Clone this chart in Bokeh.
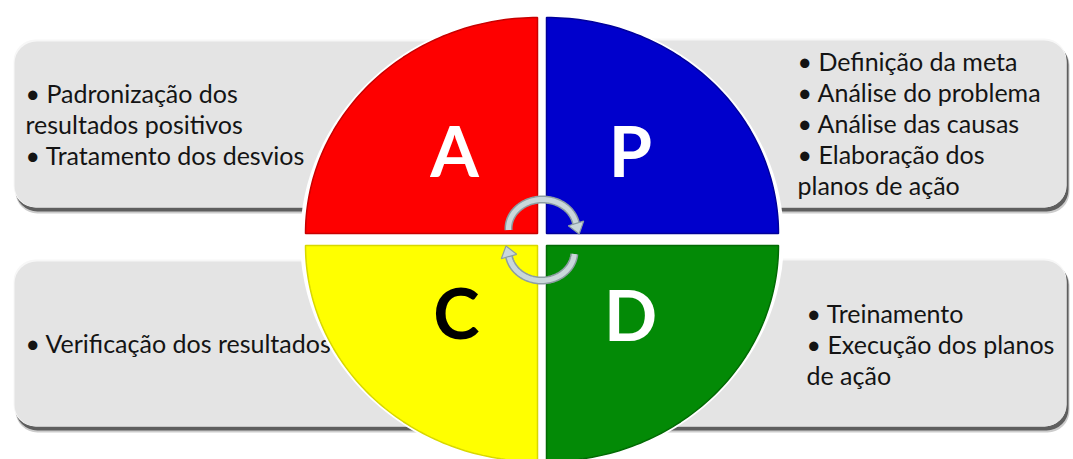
import numpy as np
from bokeh.plotting import figure
from bokeh.models import Range1d
from bokeh.core.properties import value
from bokeh.embed import file_html
from bokeh.resources import INLINE

# ---- content ----
letters = ["A", "P", "C", "D"]
quad_colors = ["#fe0000", "#0000cc", "#ffff00", "#038a06"]
quad_edges = ["#c80000", "#00009a", "#d8d800", "#026a04"]
letter_colors = ["white", "white", "black", "white"]

text_A = ["• Padronização dos", "resultados positivos", "• Tratamento dos desvios"]
text_P = ["• Definição da meta", "• Análise do problema", "• Análise das causas",
          "• Elaboração dos", "planos de ação"]
text_C = ["• Verificação dos resultados"]
text_D = ["• Treinamento", "• Execução dos planos", "de ação"]

# ---- layout (pixel-like coordinates, y downward) ----
W, H = 1073, 459
p = figure(width=W, height=H, x_range=Range1d(0, W), y_range=Range1d(H, 0),
           output_backend="svg", toolbar_location=None, min_border=0)
p.axis.visible = False
p.grid.visible = False
p.outline_line_color = None
p.background_fill_color = "white"

# boxes: left, right, top, bottom
box_l = [14, 480, 14, 480]
box_r = [600, 1066, 600, 1066]
box_t = [41, 40, 261, 260]
box_b = [207, 207, 426, 426]

# soft shadow
p.quad(left=[v + 1 for v in box_l], right=[v + 3 for v in box_r],
       top=[v + 3 for v in box_t], bottom=[v + 6 for v in box_b],
       fill_color="#9a9a9a", fill_alpha=0.5, line_color=None, border_radius=22)
p.quad(left=[v + 1 for v in box_l], right=[v + 2 for v in box_r],
       top=[v + 2 for v in box_t], bottom=[v + 4 for v in box_b],
       fill_color="#5e5e5e", line_color=None, border_radius=22)
# highlight rim
p.quad(left=[v - 1 for v in box_l], right=box_r,
       top=[v - 2 for v in box_t], bottom=box_b,
       fill_color="#f7f7f7", line_color=None, border_radius=22)
p.quad(left=box_l, right=box_r, top=box_t, bottom=box_b,
       fill_color="#e4e4e4", line_color=None, border_radius=22)

# texts
font = value("Lato")
fs = "25px"
lh = 31
def put_lines(lines, x0, y0):
    xs = [x0] * len(lines)
    ys = [y0 + i * lh for i in range(len(lines))]
    p.text(x=xs, y=ys, text=lines, text_font=font, text_font_size=fs,
           text_color="#141414", text_align="left", text_baseline="middle")

put_lines(text_A, 25, 92)
put_lines(text_P, 797, 60)
put_lines(text_C, 25, 342)
put_lines(text_D, 806, 312)

# white backing ellipse for the gaps
p.ellipse(x=[541.5], y=[239], width=[484], height=[452], fill_color="white", line_color=None)

# quadrants
rx, ry = 232, 216
centers = [(537, 233), (546, 233), (537, 245), (546, 245)]
ranges = [(90, 180), (0, 90), (180, 270), (270, 360)]
xs_q, ys_q = [], []
for (cx, cy), (a0, a1) in zip(centers, ranges):
    t = np.radians(np.linspace(a0, a1, 80))
    xs_q.append(list(np.r_[cx, cx + rx * np.cos(t)]))
    ys_q.append(list(np.r_[cy, cy - ry * np.sin(t)]))
p.patches(xs_q, ys_q, fill_color=quad_colors, line_color=quad_edges, line_width=1.5)

# letters
lx = [454, 630, 456, 630]
ly = [149, 149, 311, 313]
p.text(x=lx, y=ly, text=letters, text_font=value("Lato"), text_font_style="bold",
       text_font_size="70px", text_color=letter_colors,
       text_align="center", text_baseline="middle")

# cycle arrows
def arc_arrow(cx, cy, arx, ary, a0, a1):
    t = np.radians(np.linspace(a0, a1, 60))
    x = cx + arx * np.cos(t)
    y = cy - ary * np.sin(t)
    p.line(x, y, line_color="#8c9da2", line_width=8, line_cap="butt")
    p.line(x, y, line_color="#c9d7da", line_width=5, line_cap="butt")
    ex, ey = x[-1], y[-1]
    dx, dy = x[-1] - x[-4], y[-1] - y[-4]
    n = np.hypot(dx, dy)
    dx, dy = dx / n, dy / n
    px, py = -dy, dx
    L, Wd = 11, 8
    hx = [ex + px * Wd, ex - px * Wd, ex + dx * L]
    hy = [ey + py * Wd, ey - py * Wd, ey + dy * L]
    p.patch(hx, hy, fill_color="#c9d7da", line_color="#8c9da2", line_width=1.2)

arc_arrow(542, 228, 34, 29, 183, 10)
arc_arrow(541, 251, 33, 29, -5, -170)

open("out.html", "w").write(file_html(p, INLINE))
